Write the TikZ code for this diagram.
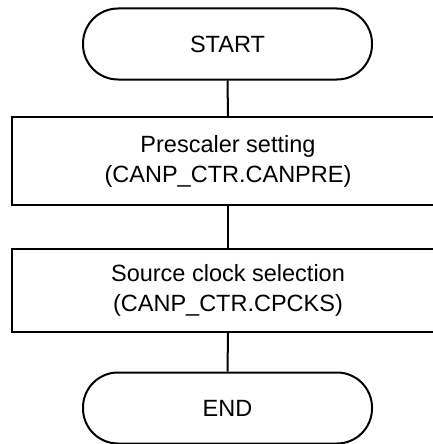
\documentclass[tikz,border=0pt]{standalone}
\usepackage{fontspec}
\setmainfont{Liberation Sans}
\begin{document}
\begin{tikzpicture}[x=1pt,y=1pt,
  lbl/.style={font=\fontsize{23.5}{30}\selectfont, align=center},
  term/.style={draw, line width=2pt, rounded corners=35pt, minimum width=289pt, minimum height=71pt, inner sep=0pt, lbl},
  proc/.style={draw, line width=2pt, minimum width=432pt, inner sep=0pt, lbl},
  link/.style={line width=2pt}]
\path[use as bounding box] (0,0) rectangle (433,-444);
\node[term] (start) at (227.5,-44) {START};
\node[proc, minimum height=88pt] (p1) at (228,-161) {Prescaler setting\\(CANP\_CTR.CANPRE)};
\node[proc, minimum height=83pt] (p2) at (228,-290.5) {Source clock selection\\(CANP\_CTR.CPCKS)};
\node[term] (end) at (227.5,-408) {END};
\draw[link] (start.south) -- (p1.north);
\draw[link] (p1.south) -- (p2.north);
\draw[link] (p2.south) -- (end.north);
\end{tikzpicture}
\end{document}
